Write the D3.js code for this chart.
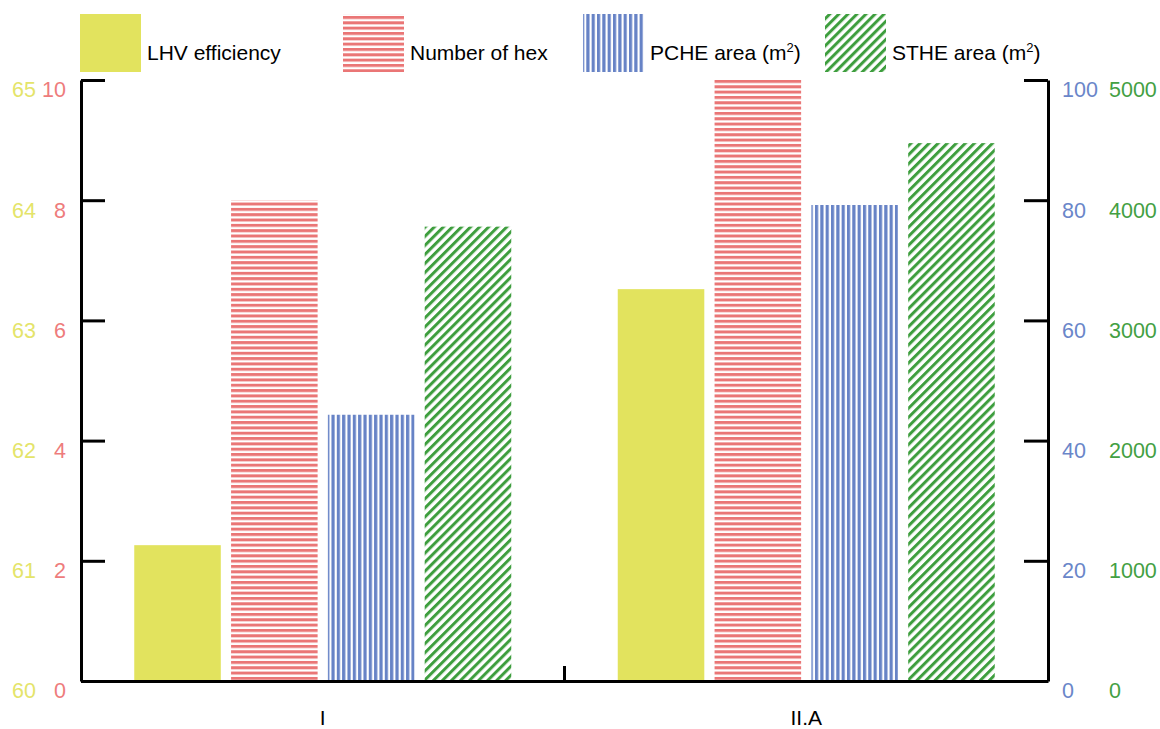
<!DOCTYPE html>
<html>
<head>
<meta charset="utf-8">
<script src="https://cdn.jsdelivr.net/npm/d3@7"></script>
<style>
  html, body { margin: 0; padding: 0; background: #ffffff; }
  svg { display: block; font-family: "Liberation Sans", Arial, sans-serif; }
</style>
</head>
<body>
<svg id="chart" width="1160" height="729"></svg>
<script>
// Cases compared
const categories = ["I", "II.A"];

// Series values per case
const lhvEfficiency = [61.13, 63.26];   // %
const numberOfHex = [8, 10];
const pcheArea = [44.3, 79.2];          // m2
const stheArea = [3780, 4475];          // m2

// Tick values for the four value axes
const effTicks = [60, 61, 62, 63, 64, 65];
const hexTicks = [0, 2, 4, 6, 8, 10];
const pcheTicks = [0, 20, 40, 60, 80, 100];
const stheTicks = [0, 1000, 2000, 3000, 4000, 5000];

const seriesKeys = ["eff", "hex", "pche", "sthe"];
const seriesNames = ["LHV efficiency", "Number of hex", "PCHE area (m", "STHE area (m"];
const seriesSup = ["", "", "2", "2"];

const colors = {
  eff: "#e2e35e",
  hex: "#ea7676",
  pche: "#6783c6",
  sthe: "#3e9e3e"
};
const labelColors = {
  eff: "#e4e46a",
  hex: "#ee7c7c",
  pche: "#6a86c9",
  sthe: "#43a043"
};

const svg = d3.select("#chart");
const plotLeft = 81, plotRight = 1048, plotTop = 80, plotBottom = 681;

// Scales
const x0 = d3.scaleBand().domain(categories).range([plotLeft, plotRight]).padding(0);
const groupWidth = 377;
const x1 = d3.scaleBand().domain(seriesKeys).range([0, groupWidth]).paddingInner(0.106).paddingOuter(0);
const yEff = d3.scaleLinear().domain([60, 65]).range([plotBottom, plotTop]);
const yHex = d3.scaleLinear().domain([0, 10]).range([plotBottom, plotTop]);
const yPche = d3.scaleLinear().domain([0, 100]).range([plotBottom, plotTop]);
const ySthe = d3.scaleLinear().domain([0, 5000]).range([plotBottom, plotTop]);

const scales = { eff: yEff, hex: yHex, pche: yPche, sthe: ySthe };
const values = { eff: lhvEfficiency, hex: numberOfHex, pche: pcheArea, sthe: stheArea };

// Fill patterns
const defs = svg.append("defs");

const pHex = defs.append("pattern").attr("id", "pat-hex")
  .attr("patternUnits", "userSpaceOnUse").attr("width", 10).attr("height", 5.33);
pHex.append("rect").attr("x", 0).attr("y", 0).attr("width", 10).attr("height", 3).attr("fill", colors.hex);

const pPche = defs.append("pattern").attr("id", "pat-pche")
  .attr("patternUnits", "userSpaceOnUse").attr("width", 5.33).attr("height", 10);
pPche.append("rect").attr("x", 0).attr("y", 0).attr("width", 3.2).attr("height", 10).attr("fill", colors.pche);

const pSthe = defs.append("pattern").attr("id", "pat-sthe")
  .attr("patternUnits", "userSpaceOnUse").attr("width", 6.4).attr("height", 10)
  .attr("patternTransform", "rotate(45)");
pSthe.append("rect").attr("x", 0).attr("y", 0).attr("width", 3).attr("height", 10).attr("fill", colors.sthe);

const fills = { eff: colors.eff, hex: "url(#pat-hex)", pche: "url(#pat-pche)", sthe: "url(#pat-sthe)" };

// Bars
const groups = svg.append("g").selectAll("g")
  .data(categories)
  .join("g")
  .attr("transform", d => `translate(${x0(d) + (x0.bandwidth() - groupWidth) / 2},0)`);

groups.selectAll("rect")
  .data((d, i) => seriesKeys.map(k => ({ key: k, value: values[k][i] })))
  .join("rect")
  .attr("x", d => x1(d.key))
  .attr("width", x1.bandwidth())
  .attr("y", d => scales[d.key](d.value))
  .attr("height", d => plotBottom - scales[d.key](d.value))
  .attr("fill", d => fills[d.key]);

// Axis frame: spines with inward ticks
const styleFrame = g => {
  g.select(".domain").attr("stroke", "#000").attr("stroke-width", 3);
  g.selectAll(".tick line").attr("stroke", "#000").attr("stroke-width", 3);
};

svg.append("g").attr("transform", `translate(${plotLeft},0)`)
  .call(d3.axisRight(yHex).tickValues(hexTicks).tickSize(24).tickSizeOuter(0).tickFormat(""))
  .call(styleFrame);

svg.append("g").attr("transform", `translate(${plotRight},0)`)
  .call(d3.axisLeft(yPche).tickValues(pcheTicks).tickSize(24).tickSizeOuter(0).tickFormat(""))
  .call(styleFrame);

// Bottom baseline with category labels
svg.append("g").attr("transform", `translate(0,${plotBottom})`)
  .call(d3.axisBottom(x0).tickSize(0).tickSizeOuter(0).tickPadding(29))
  .call(g => {
    g.select(".domain").attr("stroke", "#000").attr("stroke-width", 3);
    g.selectAll("text").attr("font-size", 21).attr("fill", "#000")
      .attr("font-family", "Liberation Sans, Arial, sans-serif");
  });

// Divider tick between the two cases
svg.append("line")
  .attr("x1", x0("II.A")).attr("x2", x0("II.A"))
  .attr("y1", plotBottom - 15).attr("y2", plotBottom)
  .attr("stroke", "#000").attr("stroke-width", 3);

// Tick label columns
const labelAxis = (axisFn, scale, ticks, xPos, color) => {
  svg.append("g").attr("transform", `translate(${xPos},0)`)
    .call(axisFn(scale).tickValues(ticks).tickFormat(d3.format("d")).tickSize(0).tickPadding(0))
    .call(g => {
      g.select(".domain").remove();
      g.selectAll("text")
        .attr("font-size", 21.5)
        .attr("font-family", "Liberation Sans, Arial, sans-serif")
        .attr("fill", color)
        .attr("y", 10);
    });
};
labelAxis(d3.axisLeft, yEff, effTicks, 36, labelColors.eff);
labelAxis(d3.axisLeft, yHex, hexTicks, 66, labelColors.hex);
labelAxis(d3.axisRight, yPche, pcheTicks, 1062, labelColors.pche);
labelAxis(d3.axisRight, ySthe, stheTicks, 1109, labelColors.sthe);

// Legend
const legendX = [80, 343, 583, 825];
const legend = svg.append("g");
seriesKeys.forEach((k, i) => {
  legend.append("rect")
    .attr("x", legendX[i]).attr("y", 14)
    .attr("width", 61).attr("height", 58)
    .attr("fill", fills[k]);
  const t = legend.append("text")
    .attr("x", legendX[i] + 67).attr("y", 60)
    .attr("font-size", 21)
    .attr("fill", "#000")
    .text(seriesNames[i]);
  if (seriesSup[i]) {
    t.append("tspan").attr("font-size", 13).attr("dy", -8).text(seriesSup[i]);
    t.append("tspan").attr("dy", 8).text(")");
  }
});
</script>
</body>
</html>
